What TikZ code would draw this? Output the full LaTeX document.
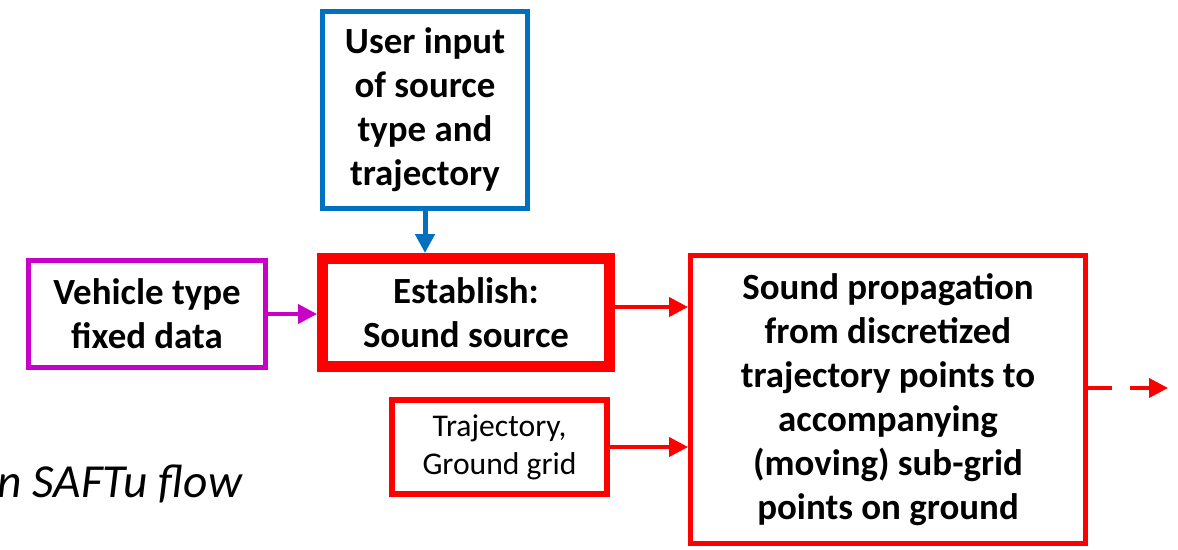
\documentclass[tikz,border=0pt]{standalone}
\usepackage{fontspec}
\setmainfont{Carlito}
\usepackage{tikz}
\usetikzlibrary{arrows.meta,positioning,calc}
\definecolor{inblue}{RGB}{0,112,192}
\definecolor{vehmag}{RGB}{200,0,200}
\definecolor{flowred}{RGB}{255,0,0}

\begin{document}
\begin{tikzpicture}[x=0.02cm,y=-0.02cm,
    box/.style={draw,fill=white,align=center,inner sep=0pt,font=\bfseries\fontsize{21}{25}\selectfont},
    tip/.style={-{Triangle[length=0.38cm,width=0.38cm]}}]
  \useasboundingbox (0,0) rectangle (1178,549);
  % input boxes
  \node[box,draw=inblue,line width=0.1cm,outer sep=0.05cm,minimum width=4.1cm,minimum height=3.96cm]
    (user) at (425,110) {User input\\of source\\type and\\trajectory};
  \node[box,draw=vehmag,line width=0.1cm,outer sep=0.05cm,minimum width=4.74cm,minimum height=2.14cm]
    (veh) at (147,314) {Vehicle type\\fixed data};
  \node[box,draw=flowred,line width=0.22cm,outer sep=0.11cm,minimum width=5.74cm,minimum height=2.16cm]
    (est) at (466,312.5) {Establish:\\Sound source};
  \node[box,draw=flowred,line width=0.12cm,outer sep=0.06cm,minimum width=4.3cm,minimum height=1.88cm,
    font=\fontsize{18}{21.6}\selectfont] (traj) at (499.5,447) {Trajectory,\\Ground grid};
  \node[box,draw=flowred,line width=0.1cm,outer sep=0.05cm,minimum width=7.9cm,minimum height=5.76cm]
    (prop) at (888,399.5) {Sound propagation\\from discretized\\trajectory points to\\accompanying\\(moving) sub-grid\\points on ground};
  \coordinate (out) at (1168,388);
  % connectors
  \draw[tip,inblue,line width=0.1cm] (user.south) -- (user.south |- est.north);
  \draw[tip,vehmag,line width=0.08cm] (veh.east) -- (veh.east -| est.west);
  \draw[tip,flowred,line width=0.08cm] ([yshift=0.11cm]est.east) -- ([yshift=0.11cm]est.east -| prop.west);
  \draw[tip,flowred,line width=0.08cm] (traj.east) -- (traj.east -| prop.west);
  \draw[tip,flowred,line width=0.08cm,dash pattern=on 0.48cm off 0.36cm] (prop.east |- out) -- (out);
  % caption fragment
  \node[anchor=base west,inner sep=0pt,font=\itshape\fontsize{27}{32}\selectfont] (cap) at (-3,497) {n SAFTu flow};
\end{tikzpicture}
\end{document}
